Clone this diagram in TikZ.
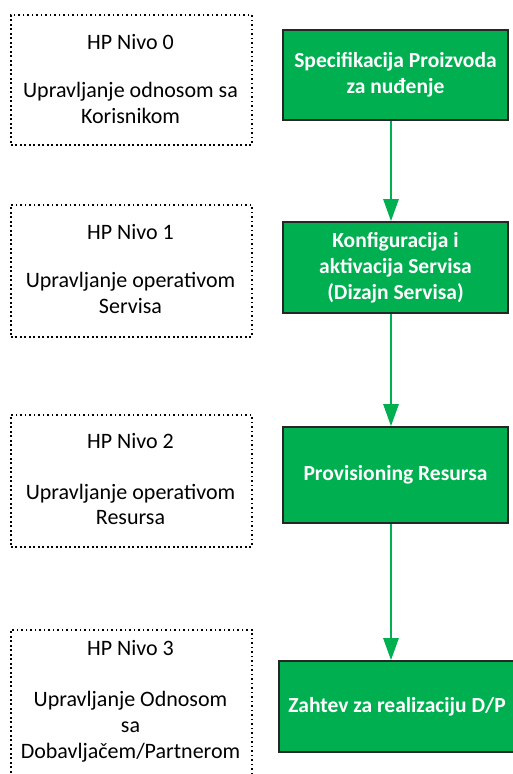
\documentclass[tikz,border=0pt]{standalone}
\usepackage{fontspec}
\setmainfont{Carlito}
\usetikzlibrary{arrows.meta}
\definecolor{offgreen}{HTML}{00B050}
\begin{document}
\begin{tikzpicture}[x=1pt,y=-1pt,
  levelbox/.style={draw=black, line width=1.8pt, dash pattern=on 1.8pt off 2.7pt, inner sep=0pt, anchor=north west},
  procbox/.style={draw=black!85, line width=1.6pt, fill=offgreen, inner sep=0pt, text=white, font=\fontsize{21.5}{26}\selectfont\bfseries, align=center},
  lbl/.style={font=\fontsize{22}{26}\selectfont, anchor=base, inner sep=0pt},
  flow/.style={draw=offgreen, line width=2.6pt, -{Triangle[length=22pt,width=15pt]}}
]
\useasboundingbox (0,0) rectangle (513,774);
\clip (0,0) rectangle (513,774);
\fill[white] (0,0) rectangle (513,774);

% level boxes (dotted)
\node[levelbox, minimum width=241pt, minimum height=130pt] (L0) at (10,14) {};
\node[levelbox, minimum width=241pt, minimum height=132pt] (L1) at (10,204) {};
\node[levelbox, minimum width=241pt, minimum height=132pt] (L2) at (10,414) {};
\node[levelbox, minimum width=241pt, minimum height=160pt] (L3) at (10,629) {};

\node[lbl] (t0) at (130.5,49.5) {HP Nivo 0};
\node[lbl] (b0a) at (130.5,97) {Upravljanje odnosom sa};
\node[lbl] (b0b) at (130.5,123) {Korisnikom};
\node[lbl] (t1) at (130.5,239.5) {HP Nivo 1};
\node[lbl] (b1a) at (130.5,287) {Upravljanje operativom};
\node[lbl] (b1b) at (130.5,313) {Servisa};
\node[lbl] (t2) at (130.5,448.5) {HP Nivo 2};
\node[lbl] (b2a) at (130.5,499) {Upravljanje operativom};
\node[lbl] (b2b) at (130.5,524) {Resursa};
\node[lbl] (t3) at (130.5,655.5) {HP Nivo 3};
\node[lbl] (b3a) at (130.5,706) {Upravljanje Odnosom};
\node[lbl] (b3b) at (130.5,732) {sa};
\node[lbl] (b3c) at (130.5,758) {Dobavljačem/Partnerom};

% process boxes (green)
\node[procbox, minimum width=225pt, minimum height=90pt] (G0) at (395.5,75) {Specifikacija Proizvoda\\za nuđenje};
\node[procbox, minimum width=225pt, minimum height=91pt] (G1) at (395.5,267.5) {Konfiguracija i\\aktivacija Servisa\\(Dizajn Servisa)};
\node[procbox, minimum width=225pt, minimum height=96pt] (G2) at (395.5,475) {Provisioning Resursa};
\node[procbox, minimum width=236pt, minimum height=91pt] (G3) at (397,706.5) {Zahtev za realizaciju D/P};

% connectors
\draw[flow] (G0.south -| 391,0) -- (G1.north -| 391,0);
\draw[flow] (G1.south -| 391,0) -- (G2.north -| 391,0);
\draw[flow] (G2.south -| 391,0) -- (G3.north -| 391,0);
\end{tikzpicture}
\end{document}
